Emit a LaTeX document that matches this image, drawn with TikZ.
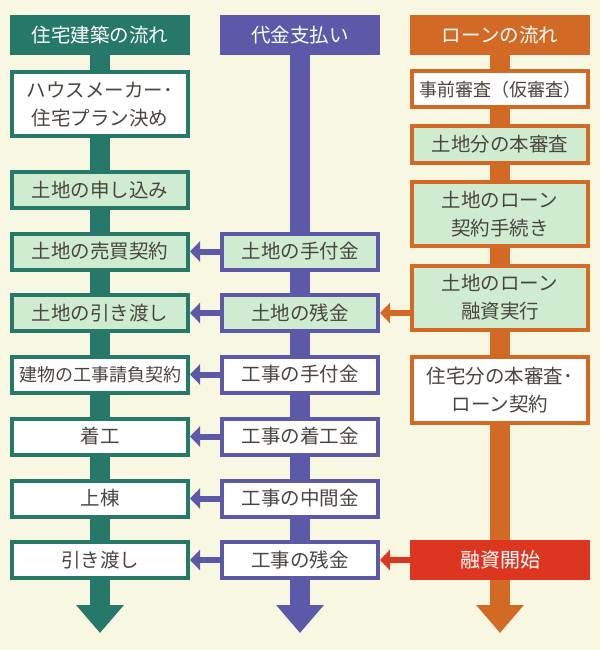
\documentclass[tikz,border=0pt]{standalone}
\usepackage{fontspec}
\setmainfont{Noto Sans CJK JP}
\usetikzlibrary{arrows.meta}

\definecolor{bgcream}{HTML}{F8F7E1}
\definecolor{housegreen}{HTML}{267868}
\definecolor{paypurple}{HTML}{5C5AA8}
\definecolor{loanorange}{HTML}{D26A25}
\definecolor{startred}{HTML}{DC3520}
\definecolor{palegreen}{HTML}{CFECD0}
\definecolor{textgray}{HTML}{4A4540}

\tikzset{
  headbox/.style={fill=#1, minimum height=40pt, inner sep=0pt, text=white,
    font=\fontsize{19.5}{22}\selectfont},
  stepbox/.style={draw=#1, line width=4pt, fill=white, minimum height=36pt, inner sep=0pt,
    align=center, text=textgray, font=\fontsize{19.5}{28}\selectfont},
  pale/.style={fill=palegreen},
  twoline/.style={minimum height=64pt},
  snug/.style={font=\fontsize{18}{28}\selectfont},
  trunk/.style={draw=#1, line width=20pt, -{Triangle[width=46pt,length=28pt]}},
  handover/.style={draw=#1, line width=6pt, -{Triangle[width=20pt,length=10pt]}},
}

\begin{document}
\begin{tikzpicture}[x=1pt,y=-1pt]
                \fill[bgcream] (0,0) rectangle (600,650);
                \useasboundingbox (0,0) rectangle (600,650);

                \node[headbox=housegreen, minimum width=180pt] (gh) at (100,35) {住宅建築の流れ};
                \node[headbox=paypurple, minimum width=160pt] (ph) at (300,35) {代金支払い};
                \node[headbox=loanorange, minimum width=180pt] (oh) at (500,35) {ローンの流れ};

                \coordinate (gend) at (100,633);
                \coordinate (pend) at (300,633);
                \coordinate (oend) at (500,633);

                \draw[trunk=housegreen] (gh.south) -- (gend);
                \draw[trunk=paypurple] (ph.south) -- (pend);
                \draw[trunk=loanorange] (oh.south) -- (oend);

                % 住宅建築の流れ
                \node[stepbox=housegreen, twoline, minimum width=176pt] (g1) at (100,104) {ハウスメーカー･\\住宅プラン決め};
                \node[stepbox=housegreen, pale, minimum width=176pt] (g2) at (100,190) {土地の申し込み};
                \node[stepbox=housegreen, pale, minimum width=176pt] (g3) at (100,251.5) {土地の売買契約};
                \node[stepbox=housegreen, pale, minimum width=176pt] (g4) at (100,313) {土地の引き渡し};
                \node[stepbox=housegreen, snug, minimum width=176pt] (g5) at (100,374.5) {建物の工事請負契約};
                \node[stepbox=housegreen, minimum width=176pt] (g6) at (100,436.5) {着工};
                \node[stepbox=housegreen, minimum width=176pt] (g7) at (100,498.5) {上棟};
                \node[stepbox=housegreen, minimum width=176pt] (g8) at (100,560) {引き渡し};

                % 代金支払い
                \node[stepbox=paypurple, pale, minimum width=156pt] (p1) at (300,251.5) {土地の手付金};
                \node[stepbox=paypurple, pale, minimum width=156pt] (p2) at (300,313) {土地の残金};
                \node[stepbox=paypurple, minimum width=156pt] (p3) at (300,374.5) {工事の手付金};
                \node[stepbox=paypurple, minimum width=156pt] (p4) at (300,436.5) {工事の着工金};
                \node[stepbox=paypurple, minimum width=156pt] (p5) at (300,498.5) {工事の中間金};
                \node[stepbox=paypurple, minimum width=156pt] (p6) at (300,560) {工事の残金};

                % ローンの流れ
                \node[stepbox=loanorange, snug, minimum width=176pt] (o1) at (500,89.5) {事前審査（仮審査）};
                \node[stepbox=loanorange, pale, minimum width=176pt] (o2) at (500,144.5) {土地分の本審査};
                \node[stepbox=loanorange, pale, twoline, minimum width=176pt] (o3) at (500,214) {土地のローン\\契約手続き};
                \node[stepbox=loanorange, pale, twoline, minimum width=176pt] (o4) at (500,297.5) {土地のローン\\融資実行};
                \node[stepbox=loanorange, twoline, minimum height=66pt, minimum width=176pt] (o5) at (500,390) {住宅分の本審査･\\ローン契約};
                \node[headbox=startred, minimum width=180pt, font=\fontsize{20}{22}\selectfont] (o6) at (500,560) {融資開始};

                \draw[handover=paypurple] (p1.west) -- (g3.east);
                \draw[handover=paypurple] (p2.west) -- (g4.east);
                \draw[handover=paypurple] (p3.west) -- (g5.east);
                \draw[handover=paypurple] (p4.west) -- (g6.east);
                \draw[handover=paypurple] (p5.west) -- (g7.east);
                \draw[handover=paypurple] (p6.west) -- (g8.east);
                \draw[handover=loanorange] (o4.west |- p2.east) -- (p2.east);
                \draw[handover=startred] (o6.west) -- (p6.east);
\end{tikzpicture}
\end{document}
